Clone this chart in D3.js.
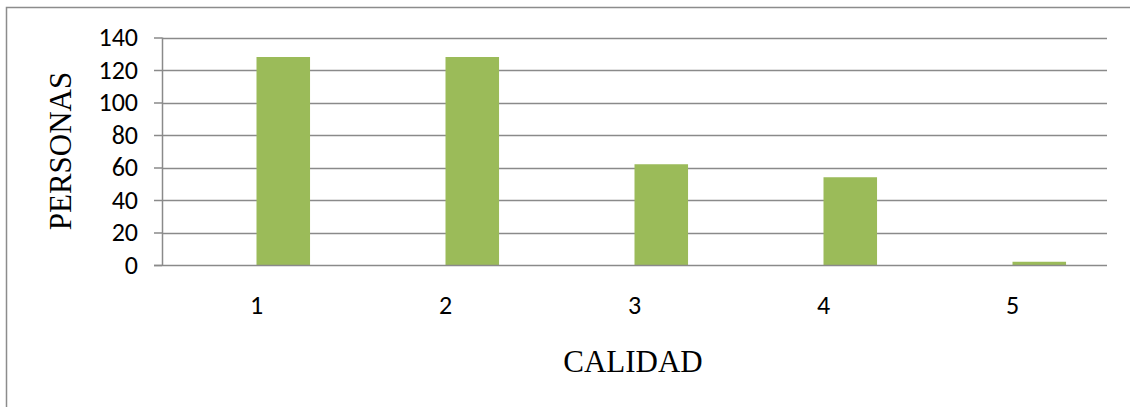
<!DOCTYPE html>
<html>
<head>
<meta charset="utf-8">
<script src="https://cdn.jsdelivr.net/npm/d3@7"></script>
<style>
  html, body { margin: 0; padding: 0; background: #fff; }
  svg { display: block; }
</style>
</head>
<body>
<svg id="chart" width="1130" height="407"></svg>
<script>
const categories = ["1", "2", "3", "4", "5"];
const seriesNames = ["Serie1", "Serie2"];
const serie1 = [0, 0, 0, 0, 0];
const serie2 = [128, 128, 62, 54, 2];
const yTicks = [0, 20, 40, 60, 80, 100, 120, 140];

(function () {
const svg = d3.select("#chart");
const W = 1130, H = 407;
const pLeft = 162, pRight = 1107, pTop = 37.5, pBottom = 265;
const tickFont = "Carlito, 'Open Sans', 'Liberation Sans', sans-serif";

// outer frame
svg.append("path")
  .attr("d", `M6.5,${H} L6.5,7.5 L${W},7.5`)
  .attr("fill", "none").attr("stroke", "#8c8c8c").attr("stroke-width", 1.5);

const x = d3.scaleBand().domain(categories).range([pLeft, pRight]).paddingInner(0).paddingOuter(0);
const bw = x.bandwidth() / (2 + 1.53);
const x1 = d3.scaleBand().domain(seriesNames).range([x.bandwidth()/2 - bw, x.bandwidth()/2 + bw]);
const y = d3.scaleLinear().domain([0, 140]).range([pBottom, pTop]);

// gridlines
svg.append("g").selectAll("line").data(yTicks.filter(d => d > 0)).join("line")
  .attr("x1", pLeft).attr("x2", pRight)
  .attr("y1", d => Math.round(y(d)) + 0.5).attr("y2", d => Math.round(y(d)) + 0.5)
  .attr("stroke", "#8a8a8a").attr("stroke-width", 1.5);

// bars
const data = categories.map((c, i) => ({ c, vals: [serie1[i], serie2[i]] }));
const g = svg.append("g");
data.forEach(d => {
  d.vals.forEach((v, j) => {
    if (v <= 0) return;
    g.append("rect")
      .attr("x", x(d.c) + x1(seriesNames[j]))
      .attr("width", x1.bandwidth())
      .attr("y", y(v))
      .attr("height", y(0) - y(v))
      .attr("fill", j === 1 ? "#9bbb59" : "#4f81bd");
  });
});

// y axis
const yAxis = d3.axisLeft(y).tickValues(yTicks).tickSize(8).tickPadding(16);
const ya = svg.append("g").attr("transform", `translate(${pLeft},0)`).call(yAxis)
  .attr("font-family", tickFont).attr("font-size", 26);
ya.select(".domain").attr("stroke", "#8a8a8a").attr("stroke-width", 1.5).attr("d", `M0.5,${pTop}V${pBottom}`);
ya.selectAll(".tick line").attr("stroke", "#8a8a8a").attr("stroke-width", 1.5);
ya.selectAll(".tick text").style("font-family", tickFont).style("font-size", "26px").attr("fill", "#000");

// x axis
const xAxis = d3.axisBottom(x).tickSize(0).tickPadding(30);
const xa = svg.append("g").attr("transform", `translate(0,${Math.round(pBottom)+0.5})`).call(xAxis)
  .attr("font-family", tickFont).attr("font-size", 26);
xa.select(".domain").attr("stroke", "#8a8a8a").attr("stroke-width", 1.5).attr("d", `M${pLeft-8},0H${pRight}`);
xa.selectAll(".tick text").style("font-family", tickFont).style("font-size", "26px").attr("fill", "#000");

// axis titles
svg.append("text").attr("x", 633).attr("y", 372).attr("text-anchor", "middle")
  .style("font-family", "'Liberation Serif', 'Times New Roman', serif").style("font-size", "31px")
  .attr("fill", "#000").text("CALIDAD");
svg.append("text").attr("transform", "translate(60,151) rotate(-90)").attr("text-anchor", "middle")
  .attr("dy", "0.35em")
  .style("font-family", "'Liberation Serif', 'Times New Roman', serif").style("font-size", "31px")
  .attr("fill", "#000").text("PERSONAS");
})();
</script>
</body>
</html>
